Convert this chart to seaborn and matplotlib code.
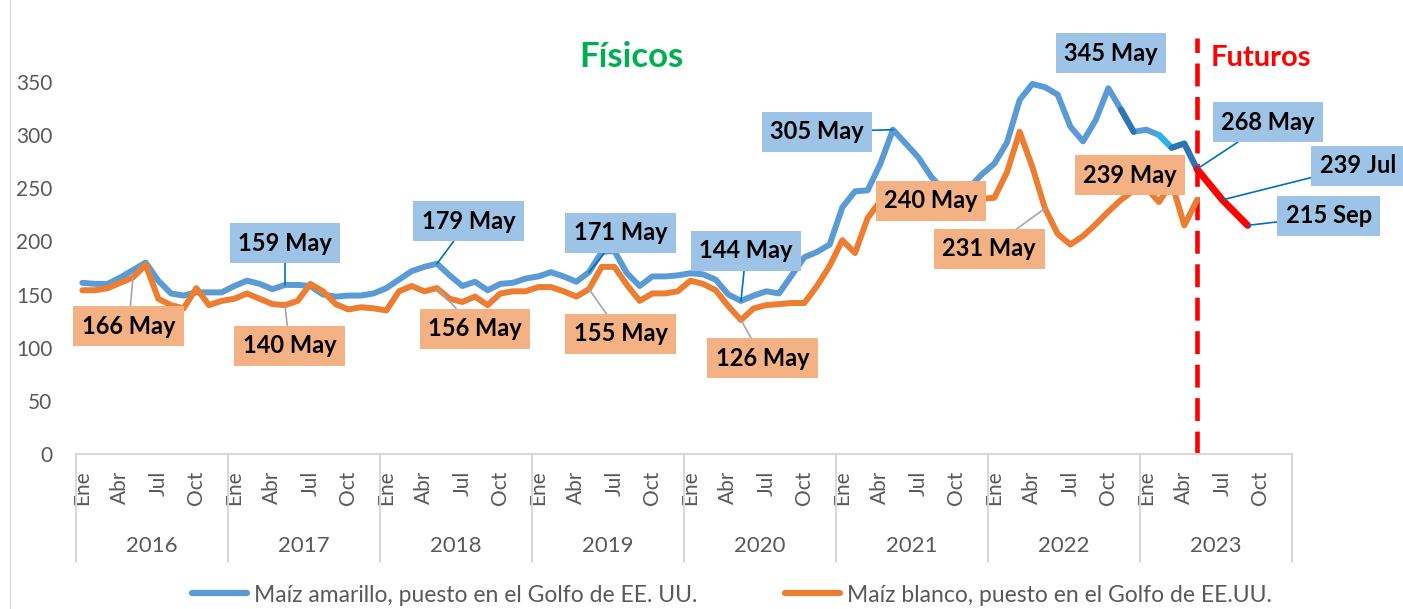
import pandas as pd
import matplotlib
matplotlib.use('Agg')
import matplotlib.pyplot as plt
import seaborn as sns
from matplotlib.lines import Line2D

sns.set_theme(style='white')
plt.rcParams['font.family'] = ['Lato', 'DejaVu Sans']

# precios mensuales (USD/t), Ene-2016 .. May-2023
years = list(range(2016, 2024))
meses = ['Ene', 'Feb', 'Mar', 'Abr', 'May', 'Jun', 'Jul', 'Ago', 'Sep', 'Oct', 'Nov', 'Dic']
meses_eje = ['Ene', 'Abr', 'Jul', 'Oct']

amarillo = [161, 160, 160, 166, 173, 180, 163, 151, 149, 152, 152, 152,
            158, 163, 160, 155, 159, 159, 158, 150, 148, 149, 149, 151,
            156, 164, 172, 176, 179, 168, 158, 162, 154, 160, 161, 165,
            167, 171, 167, 162, 171, 190, 191, 170, 158, 167, 167, 168,
            170, 169, 164, 150, 144, 149, 153, 151, 168, 185, 190, 197,
            232, 247, 248, 273, 305, 292, 279, 261, 248, 244, 250, 263,
            273, 293, 333, 348, 345, 338, 308, 294, 314, 344, 324, 303,
            305, 300, 288, 292, 268]
blanco = [154, 154, 156, 161, 166, 178, 146, 140, 137, 156, 140, 144,
          146, 151, 146, 141, 140, 144, 160, 153, 141, 136, 138, 137,
          135, 153, 158, 153, 156, 146, 143, 148, 140, 151, 153, 153,
          157, 157, 153, 148, 155, 176, 176, 159, 144, 151, 151, 153,
          163, 160, 154, 139, 126, 137, 140, 141, 142, 142, 158, 177,
          201, 189, 222, 238, 240, 238, 236, 235, 237, 240, 243, 240,
          241, 265, 303, 270, 231, 207, 197, 205, 216, 228, 239, 248,
          250, 237, 255, 215, 239]
futuros_meses = ['May', 'Jul', 'Sep']
futuros = [268, 239, 215]

serie_amarillo = 'Maíz amarillo, puesto en el Golfo de EE. UU.'
serie_blanco = 'Maíz blanco, puesto en el Golfo de EE.UU.'

df = pd.DataFrame({'idx': range(len(amarillo)), 'amarillo': amarillo, 'blanco': blanco})
df_fut = pd.DataFrame({'idx': [(2023 - 2016) * 12 + meses.index(m) for m in futuros_meses],
                       'valor': futuros})
inicio_fut = df_fut['idx'].iloc[0]

AZUL = '#5B9BD5'
NARANJA = '#ED7D31'
GRIS = '#595959'

fig = plt.figure(figsize=(14.03, 6.09), dpi=100)
ax = fig.add_axes([76 / 1403, 155 / 609, 1216 / 1403, 420 / 609])

sns.lineplot(data=df, x='idx', y='amarillo', color=AZUL, lw=4.3, ax=ax,
             solid_capstyle='round', zorder=3)
# tramos de otro tono en la serie amarilla
for a, b, c in [(82, 83, '#2E75B6'), (85, 86, '#2DB4EC'), (86, 88, '#2E75B6')]:
    tramo = df[(df['idx'] >= a) & (df['idx'] <= b)]
    sns.lineplot(data=tramo, x='idx', y='amarillo', color=c, lw=4.3, ax=ax, zorder=3)
sns.lineplot(data=df, x='idx', y='blanco', color=NARANJA, lw=4.3, ax=ax,
             solid_capstyle='round', zorder=4)
sns.lineplot(data=df_fut, x='idx', y='valor', color='#FF0000', lw=5, ax=ax, zorder=4)

ax.axvline(inicio_fut, ymin=0, ymax=0.99, color='#FF0000', lw=3.3, dashes=(5, 2.3), zorder=2)

ax.set_xlim(-0.5, len(years) * 12 - 0.5)
ax.set_ylim(0, 395)
ax.set_yticks(range(0, 351, 50))
ax.tick_params(axis='y', length=0, pad=17, labelsize=15, labelcolor=GRIS)
ticks = [k * 12 + meses.index(m) for k in range(len(years)) for m in meses_eje]
ax.set_xticks(ticks, [m for _ in years for m in meses_eje], rotation=90)
ax.tick_params(axis='x', length=0, pad=12, labelsize=15, labelcolor=GRIS)
for lab in ax.get_xticklabels():
    lab.set_verticalalignment('top')
ax.set_xlabel('')
ax.set_ylabel('')
for s in ['top', 'right', 'left']:
    ax.spines[s].set_visible(False)
ax.spines['bottom'].set_color('#D9D9D9')
ax.spines['bottom'].set_linewidth(1.5)

trans = ax.get_xaxis_transform()
for k in range(len(years) + 1):
    ax.plot([k * 12 - 0.5] * 2, [0, -0.257], transform=trans, color='#D9D9D9',
            lw=1.5, clip_on=False)
for k, y in enumerate(years):
    ax.text(k * 12 + 5.5, -0.219, str(y), transform=trans, ha='center', va='center',
            fontsize=16, color=GRIS)

# etiquetas de datos: (serie, indice, posicion de la caja)
etiquetas = [
    ('blanco', 4, 3.65, 120, True),
    ('amarillo', 16, 16.0, 198, True),
    ('blanco', 16, 16.35, 102, True),
    ('amarillo', 28, 30.5, 219, True),
    ('blanco', 28, 31.0, 118, True),
    ('amarillo', 40, 42.5, 208, True),
    ('blanco', 40, 42.5, 113, True),
    ('amarillo', 52, 52.4, 191, True),
    ('blanco', 52, 53.7, 90, True),
    ('amarillo', 64, 58.0, 303, True),
    ('blanco', 64, 67.0, 238, False),
    ('blanco', 76, 71.6, 193, True),
    ('amarillo', 76, 81.2, 377, False),
    ('blanco', 88, 82.7, 262, False),
]
for serie, i, bx, by, linea in etiquetas:
    v = df[serie].iloc[i]
    fc = '#9DC3E6' if serie == 'amarillo' else '#F4B183'
    lc = '#0070C0' if serie == 'amarillo' else '#A6A6A6'
    ax.annotate(f'{v} {meses[i % 12]}', xy=(i, v), xytext=(bx, by), textcoords='data',
                ha='center', va='center', fontsize=17, fontweight='bold', color='black',
                bbox=dict(boxstyle='square,pad=0.36', fc=fc, ec='none'),
                arrowprops=dict(arrowstyle='-', color=lc, lw=1.2, shrinkA=0, shrinkB=0)
                if linea else None,
                annotation_clip=False, zorder=6)

for (i, v), (bx, by) in zip(df_fut[['idx', 'valor']].values, [(93.6, 312), (100.7, 271), (98.4, 224)]):
    ax.annotate(f'{v} {meses[i % 12]}', xy=(i, v), xytext=(bx, by), textcoords='data',
                ha='center', va='center', fontsize=17, fontweight='bold', color='black',
                bbox=dict(boxstyle='square,pad=0.36', fc='#9DC3E6', ec='none'),
                arrowprops=dict(arrowstyle='-', color='#0070C0', lw=1.2, shrinkA=0, shrinkB=0),
                annotation_clip=False, zorder=6)

fig.text(631 / 1403, 1 - 57 / 609, 'Físicos', ha='center', va='center', fontsize=25,
         fontweight='bold', color='#00B050')
fig.text(1211 / 1403, 1 - 58 / 609, 'Futuros', ha='left', va='center', fontsize=21,
         fontweight='bold', color='#FF0000')

fig.add_artist(Line2D([10 / 1403] * 2, [0, 1], color='#D9D9D9', lw=1))

handles = [Line2D([], [], color=AZUL, lw=4.5, solid_capstyle='round'),
           Line2D([], [], color=NARANJA, lw=4.5, solid_capstyle='round')]
fig.legend(handles, [serie_amarillo, serie_blanco], loc='center',
           bbox_to_anchor=(732 / 1403, 1 - 595 / 609), ncol=2, frameon=False, fontsize=16.5,
           handlelength=2.4, handletextpad=0.3, columnspacing=3.8, labelcolor=GRIS)

fig.savefig('out.png', dpi=100)
